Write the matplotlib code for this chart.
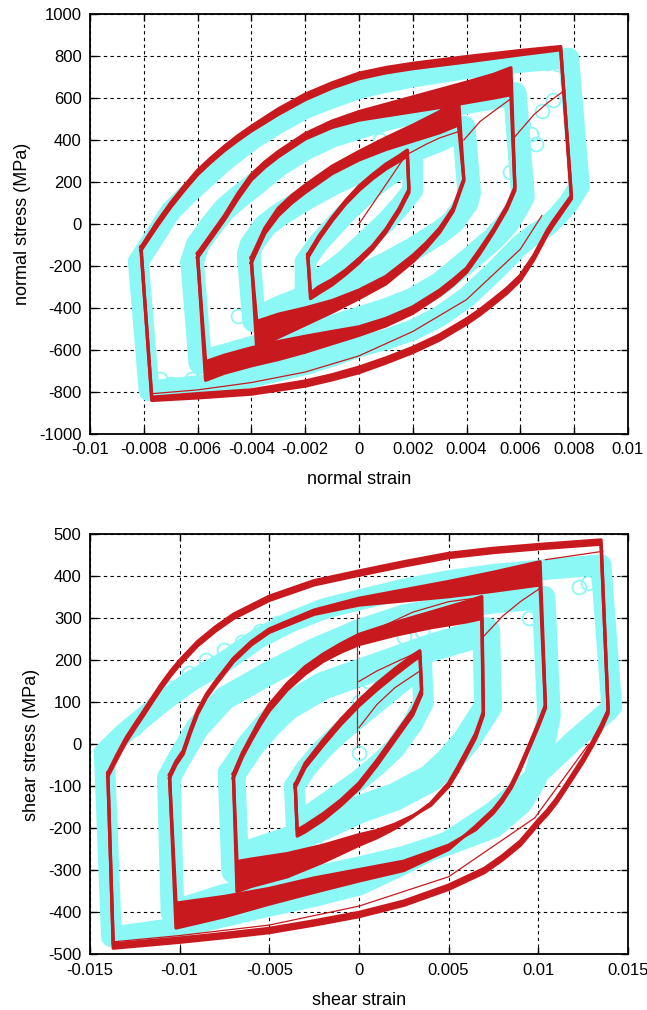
import matplotlib
matplotlib.use("Agg")
import matplotlib.pyplot as plt

RED = '#c8191e'
CYAN = '#8cf8f6'

# ================= NORMAL (top panel) =================
# simulated loops: upper branch (x, outer cycle y, inner cycle y), lower branch
n1_up_x = [-0.0019, -0.0015, -0.001, -0.0005, 0.0, 0.0005, 0.001, 0.0015, 0.0018]
n1_up_a = [-145, -60, 30, 110, 180, 235, 285, 325, 352]
n1_up_b = [-160, -75, 15, 95, 160, 215, 262, 300, 325]
n1_lo_x = [0.00186, 0.0015, 0.001, 0.0005, 0.0, -0.0005, -0.001, -0.0015, -0.0018]
n1_lo_a = [150, 60, -40, -120, -185, -240, -290, -330, -355]
n1_lo_b = [165, 75, -25, -105, -165, -220, -265, -300, -330]

n2_up_x = [-0.0040, -0.0035, -0.003, -0.0025, -0.002, -0.001, 0.0, 0.001, 0.002, 0.003, 0.0037]
n2_up_a = [-160, -20, 75, 135, 185, 275, 345, 410, 470, 535, 600]
n2_up_b = [-185, -45, 40, 100, 150, 240, 305, 355, 395, 435, 472]
n2_lo_x = [0.0039, 0.0035, 0.003, 0.0025, 0.002, 0.001, 0.0, -0.001, -0.002, -0.003, -0.0038]
n2_lo_a = [205, 60, -40, -115, -180, -285, -355, -420, -480, -540, -592]
n2_lo_b = [215, 75, -20, -90, -150, -250, -315, -365, -400, -430, -464]

n3_up_x = [-0.0060, -0.0055, -0.005, -0.0045, -0.004, -0.0035, -0.003, -0.002, -0.001, 0.0, 0.001, 0.002, 0.003, 0.004, 0.005, 0.00565]
n3_up_a = [-140, -50, 40, 145, 235, 295, 345, 430, 490, 535, 570, 605, 640, 675, 712, 744]
n3_up_b = [-160, -70, 20, 120, 210, 270, 320, 405, 460, 495, 515, 535, 555, 578, 600, 616]
n3_lo_x = [0.0058, 0.0055, 0.005, 0.0045, 0.004, 0.0035, 0.003, 0.002, 0.001, 0.0, -0.001, -0.002, -0.003, -0.004, -0.005, -0.0057]
n3_lo_a = [160, 70, -40, -140, -230, -290, -340, -425, -485, -530, -570, -610, -645, -675, -710, -744]
n3_lo_b = [175, 85, -25, -120, -210, -265, -315, -395, -450, -490, -512, -535, -560, -590, -625, -656]

n4_up_x = [-0.0081, -0.0075, -0.007, -0.0065, -0.006, -0.0055, -0.005, -0.0045, -0.004, -0.003, -0.002, -0.001, 0.0, 0.001, 0.002, 0.004, 0.006, 0.0075]
n4_up_a = [-110, 10, 100, 180, 255, 315, 370, 420, 465, 548, 618, 672, 718, 745, 765, 797, 826, 845]
n4_up_b = [-125, -10, 80, 160, 235, 295, 350, 398, 443, 522, 592, 648, 692, 720, 740, 772, 806, 830]
n4_lo_x = [0.0079, 0.0072, 0.007, 0.0065, 0.006, 0.0055, 0.005, 0.0045, 0.004, 0.003, 0.002, 0.001, 0.0, -0.001, -0.002, -0.004, -0.006, -0.0077]
n4_lo_a = [120, -10, -50, -170, -268, -330, -382, -432, -476, -552, -612, -662, -708, -742, -772, -810, -828, -840]
n4_lo_b = [135, 10, -30, -150, -245, -306, -358, -408, -452, -528, -588, -638, -682, -718, -748, -790, -808, -825]

# thin simulated transition curves
nt0_x = [0.0, 0.0006, 0.0012, 0.00183]
nt0_y = [0, 112, 225, 344]
nt1_x = [0.00186, 0.0025, 0.003, 0.0037]
nt1_y = [336, 380, 410, 440]
nt2_x = [0.0039, 0.0045, 0.005, 0.0056]
nt2_y = [400, 488, 536, 592]
nt3_x = [0.0058, 0.0065, 0.007, 0.0076]
nt3_y = [416, 520, 576, 632]
nt4_x = [-0.0077, -0.006, -0.004, -0.002, 0.0, 0.002, 0.004, 0.006, 0.0068]
nt4_y = [-808, -790, -755, -705, -628, -512, -360, -120, 40]
nt5_x = [-0.0038, -0.003, -0.002, -0.001, 0.0]
nt5_y = [-472, -452, -424, -380, -320]

# experimental loops (cyan)
cn1_up_x = [-0.002, -0.0015, -0.001, -0.0005, 0.0, 0.0005, 0.001, 0.0015, 0.002]
cn1_up_y = [-180, -90, -20, 50, 110, 170, 220, 265, 300]
cn1_lo_x = [0.002, 0.0015, 0.001, 0.0005, 0.0, -0.0005, -0.001, -0.0015, -0.002]
cn1_lo_y = [160, 80, 10, -50, -110, -170, -220, -265, -320]

cn2_up_x = [-0.0041, -0.004, -0.0035, -0.003, -0.0025, -0.002, -0.001, 0.0, 0.001, 0.002, 0.003, 0.0039]
cn2_up_y = [-150, -100, -10, 40, 80, 120, 190, 250, 300, 350, 400, 460]
cn2_lo_x = [0.0041, 0.004, 0.0035, 0.003, 0.0025, 0.002, 0.001, 0.0, -0.001, -0.002, -0.003, -0.0039]
cn2_lo_y = [150, 100, 10, -40, -80, -120, -190, -250, -300, -350, -400, -460]

cn3_up_x = [-0.0062, -0.006, -0.0055, -0.005, -0.0045, -0.004, -0.003, -0.002, -0.001, 0.0, 0.001, 0.002, 0.003, 0.004, 0.0058]
cn3_up_y = [-180, -100, -10, 70, 125, 175, 280, 360, 420, 460, 500, 530, 555, 580, 620]
cn3_lo_x = [0.0061, 0.0058, 0.0055, 0.005, 0.0045, 0.004, 0.003, 0.002, 0.001, 0.0, -0.001, -0.002, -0.003, -0.004, -0.0059]
cn3_lo_y = [130, 60, 0, -70, -125, -180, -285, -360, -410, -450, -490, -530, -560, -590, -660]

cn4_up_x = [-0.0082, -0.0078, -0.0074, -0.007, -0.0065, -0.006, -0.005, -0.004, -0.003, -0.002, -0.001, 0.0, 0.001, 0.002, 0.004, 0.006, 0.0078]
cn4_up_y = [-180, -100, -20, 60, 125, 185, 300, 400, 480, 550, 600, 645, 675, 700, 740, 770, 790]
cn4_lo_x = [0.0082, 0.0078, 0.0074, 0.007, 0.0065, 0.006, 0.005, 0.004, 0.003, 0.002, 0.001, 0.0, -0.001, -0.002, -0.004, -0.006, -0.0078]
cn4_lo_y = [180, 100, 40, -10, -50, -100, -230, -350, -440, -505, -550, -585, -630, -670, -730, -770, -795]

# scattered experimental points
cn_px = [0.0027, 0.0034, 0.0038, 0.0046, 0.0052, 0.0057, 0.0063, 0.0070, 0.0074,
         0.0058, 0.0061, 0.0064, 0.0068, 0.0072, 0.0060, 0.0066, 0.0056, 0.0060,
         -0.0074, -0.0070, -0.0066, -0.0062, -0.0056, -0.0050, -0.0044, -0.0040,
         -0.0030, -0.0025, -0.0020, -0.0045, -0.0015, 0.0022, 0.0008]
cn_py = [715, 740, 745, 735, 760, 772, 770, 765, 760,
         560, 470, 430, 540, 590, 300, 380, 250, 170,
         -740, -760, -785, -740, -750, -740, -720, -690,
         -700, -660, -640, -440, -470, 420, 400]

n_xticks = [-0.01, -0.008, -0.006, -0.004, -0.002, 0.0, 0.002, 0.004, 0.006, 0.008, 0.01]
n_xlabels = ['-0.01', '-0.008', '-0.006', '-0.004', '-0.002', '0', '0.002', '0.004', '0.006', '0.008', '0.01']
n_yticks = [-1000, -800, -600, -400, -200, 0, 200, 400, 600, 800, 1000]

# ================= SHEAR (bottom panel) =================
s1_up_x = [-0.00355, -0.003, -0.002, -0.001, 0.0, 0.001, 0.002, 0.003, 0.0034]
s1_up_a = [-95, -45, 10, 60, 105, 145, 180, 212, 223]
s1_up_b = [-102, -55, -2, 48, 92, 130, 165, 198, 210]
s1_lo_x = [0.0035, 0.003, 0.002, 0.001, 0.0, -0.001, -0.002, -0.003, -0.00344]
s1_lo_a = [120, 70, 10, -50, -105, -145, -180, -208, -218]
s1_lo_b = [130, 82, 22, -38, -92, -132, -165, -193, -204]

s2_up_x = [-0.007, -0.0065, -0.006, -0.0055, -0.005, -0.004, -0.003, -0.002, -0.001, 0.0, 0.002, 0.004, 0.006, 0.00685]
s2_up_a = [-70, -20, 20, 60, 95, 145, 185, 215, 240, 262, 290, 315, 340, 352]
s2_up_b = [-80, -30, 10, 47, 80, 130, 168, 198, 220, 238, 260, 278, 292, 300]
s2_lo_x = [0.00694, 0.0065, 0.006, 0.0055, 0.005, 0.004, 0.003, 0.002, 0.001, 0.0, -0.002, -0.004, -0.006, -0.0068]
s2_lo_a = [78, 25, -15, -55, -92, -140, -172, -200, -222, -240, -280, -315, -338, -350]
s2_lo_b = [70, 15, -25, -65, -100, -145, -170, -190, -205, -215, -240, -260, -273, -279]

s3_up_x = [-0.01056, -0.0102, -0.0098, -0.0094, -0.009, -0.0085, -0.008, -0.007, -0.006, -0.005, -0.0025, 0.0, 0.0025, 0.005, 0.0075, 0.0101]
s3_up_a = [-72, -40, -15, 35, 80, 120, 150, 205, 245, 275, 320, 348, 368, 388, 410, 435]
s3_up_b = [-80, -48, -23, 27, 72, 112, 142, 197, 237, 267, 310, 332, 342, 352, 365, 380]
s3_lo_x = [0.0104, 0.010, 0.0093, 0.0089, 0.0085, 0.008, 0.0075, 0.0065, 0.005, 0.0025, 0.0, -0.0025, -0.005, -0.0075, -0.0102]
s3_lo_a = [94, 50, -21, -60, -95, -128, -155, -195, -250, -300, -325, -352, -380, -410, -437]
s3_lo_b = [86, 42, -29, -68, -103, -136, -163, -203, -240, -278, -298, -318, -343, -362, -378]

s4_up_x = [-0.014, -0.0135, -0.013, -0.0125, -0.012, -0.0115, -0.011, -0.0105, -0.010, -0.009, -0.008, -0.007, -0.005, -0.0025, 0.0, 0.0025, 0.005, 0.0075, 0.010, 0.0135]
s4_up_a = [-68, -25, 15, 48, 80, 113, 145, 174, 200, 245, 280, 310, 353, 390, 413, 435, 455, 467, 476, 487]
s4_up_b = [-76, -35, 5, 38, 70, 103, 135, 164, 190, 235, 270, 300, 343, 380, 403, 425, 445, 457, 466, 477]
s4_lo_x = [0.0139, 0.0135, 0.013, 0.0125, 0.012, 0.0115, 0.011, 0.0105, 0.010, 0.009, 0.008, 0.007, 0.005, 0.0025, 0.0, -0.0025, -0.005, -0.0075, -0.010, -0.0137]
s4_lo_a = [74, 35, -5, -42, -75, -108, -140, -167, -190, -240, -275, -305, -345, -383, -410, -430, -448, -460, -471, -485]
s4_lo_b = [82, 45, 5, -32, -65, -98, -130, -157, -180, -230, -265, -295, -335, -373, -400, -420, -438, -450, -461, -475]

st0_x = [-0.0001, -0.0001]
st0_y = [310, -5]
st1_x = [0.0, 0.001, 0.002, 0.0034]
st1_y = [150, 175, 195, 222]
st2_x = [0.0, 0.001, 0.002, 0.0034]
st2_y = [40, 95, 135, 175]
st3_x = [0.0, 0.001, 0.003, 0.005, 0.0068]
st3_y = [240, 275, 315, 340, 350]
st4_x = [0.0069, 0.008, 0.009, 0.0101]
st4_y = [255, 305, 340, 372]
st5_x = [0.0104, 0.012, 0.0136]
st5_y = [440, 450, 460]
st6_x = [-0.0137, -0.01, -0.005, 0.0, 0.005, 0.0098, 0.0128]
st6_y = [-470, -455, -430, -385, -315, -175, 0]

cs1_up_x = [-0.0036, -0.003, -0.002, -0.001, 0.0, 0.001, 0.002, 0.003, 0.0035]
cs1_up_y = [-100, -60, -10, 30, 65, 100, 135, 170, 190]
cs1_lo_x = [0.0036, 0.003, 0.002, 0.001, 0.0, -0.001, -0.002, -0.003, -0.0035]
cs1_lo_y = [100, 50, -10, -50, -85, -115, -145, -175, -190]

cs2_up_x = [-0.0071, -0.006, -0.005, -0.004, -0.002, 0.0, 0.002, 0.004, 0.006, 0.0071]
cs2_up_y = [-70, 0, 50, 90, 140, 170, 200, 230, 255, 270]
cs2_lo_x = [0.0072, 0.006, 0.005, 0.004, 0.002, 0.0, -0.002, -0.004, -0.006, -0.0069]
cs2_lo_y = [90, 10, -40, -80, -125, -155, -195, -230, -258, -300]

cs3_up_x = [-0.0106, -0.0101, -0.009, -0.0075, -0.005, -0.0025, 0.0, 0.0025, 0.005, 0.0075, 0.0103]
cs3_up_y = [-80, -40, 40, 110, 170, 225, 270, 305, 325, 340, 350]
cs3_lo_x = [0.0106, 0.0102, 0.0098, 0.009, 0.0075, 0.005, 0.0025, 0.0, -0.0025, -0.005, -0.0075, -0.0104]
cs3_lo_y = [70, -20, -85, -140, -195, -235, -270, -295, -318, -338, -360, -400]

cs4_up_x = [-0.0142, -0.0135, -0.013, -0.012, -0.011, -0.0094, -0.0075, -0.0056, -0.0038, -0.0019, 0.0, 0.0025, 0.005, 0.0075, 0.01, 0.0135]
cs4_up_y = [-20, 10, 30, 65, 100, 150, 197, 253, 292, 324, 344, 370, 390, 405, 415, 428]
cs4_lo_x = [0.0141, 0.0139, 0.012, 0.01, 0.0075, 0.005, 0.0025, 0.0, -0.0025, -0.005, -0.0075, -0.01, -0.012, -0.0138]
cs4_lo_y = [90, 80, 10, -70, -160, -230, -285, -335, -362, -385, -410, -435, -448, -458]

cs_px = [-0.0125, -0.0115, -0.0105, -0.0095, -0.0085, -0.0075, -0.0065, -0.0055, -0.0045,
         -0.0035, -0.0025, 0.0085, 0.0095, 0.0123, 0.0128, 0.0134, 0.0025, 0.0035,
         -0.0130, -0.0122, -0.0115, -0.0108, -0.0040, -0.0032, -0.0025, 0.0,
         0.0, 0.0005, 0.0, 0.0060, 0.0010, 0.0020]
cs_py = [40, 95, 135, 170, 200, 225, 245, 270, 290,
         300, 315, 345, 300, 375, 385, 390, 255, 270,
         -450, -445, -450, -440, -250, -245, -240, 60,
         -20, 150, 100, 340, 100, 140]

s_xticks = [-0.015, -0.01, -0.005, 0.0, 0.005, 0.01, 0.015]
s_xlabels = ['-0.015', '-0.01', '-0.005', '0', '0.005', '0.01', '0.015']
s_yticks = [-500, -400, -300, -200, -100, 0, 100, 200, 300, 400, 500]

plt.rcParams['font.family'] = ['Liberation Sans', 'DejaVu Sans']

fig = plt.figure(figsize=(6.47, 10.10), dpi=100)
ax1 = fig.add_axes([0.139, 0.5703, 0.8315, 0.4158])
ax2 = fig.add_axes([0.139, 0.0550, 0.8315, 0.4158])


def cyan_loop(ax, ux, uy, lx, ly, lw=15):
    xs = ux + lx + [ux[0]]
    ys = uy + ly + [uy[0]]
    ax.plot(xs, ys, color=CYAN, lw=lw, solid_joinstyle='round',
            solid_capstyle='round', zorder=1)
    ax.plot(xs, ys, ls='none', marker='o', ms=10, mfc='none', mec=CYAN,
            mew=1.3, zorder=1)


def red_loop(ax, ux, ua, ub, lx, la, lb, lw=2.4):
    ax.plot(ux + lx + [ux[0]], ua + la + [ua[0]], color=RED, lw=lw, zorder=3,
            solid_joinstyle='round')
    ax.plot(ux + lx + [ux[0]], ub + lb + [ub[0]], color=RED, lw=lw, zorder=3,
            solid_joinstyle='round')
    ax.fill(ux + ux[::-1], ua + ub[::-1], color=RED, lw=0, zorder=3)
    ax.fill(lx + lx[::-1], la + lb[::-1], color=RED, lw=0, zorder=3)
    ax.fill([ux[-1], lx[0], lx[0], ux[-1]], [ua[-1], la[0], lb[0], ub[-1]],
            color=RED, lw=0, zorder=3)
    ax.fill([lx[-1], ux[0], ux[0], lx[-1]], [la[-1], ua[0], ub[0], lb[-1]],
            color=RED, lw=0, zorder=3)


def thin(ax, x, y):
    ax.plot(x, y, color=RED, lw=0.9, zorder=3)


# ---- top panel ----
for ux, uy, lx, ly, w in [(cn4_up_x, cn4_up_y, cn4_lo_x, cn4_lo_y, 15),
                          (cn3_up_x, cn3_up_y, cn3_lo_x, cn3_lo_y, 17),
                          (cn2_up_x, cn2_up_y, cn2_lo_x, cn2_lo_y, 17),
                          (cn1_up_x, cn1_up_y, cn1_lo_x, cn1_lo_y, 15)]:
    cyan_loop(ax1, ux, uy, lx, ly, w)
ax1.plot(cn_px, cn_py, ls='none', marker='o', ms=10, mfc='none', mec=CYAN,
         mew=1.3, zorder=1)
red_loop(ax1, n4_up_x, n4_up_a, n4_up_b, n4_lo_x, n4_lo_a, n4_lo_b)
red_loop(ax1, n3_up_x, n3_up_a, n3_up_b, n3_lo_x, n3_lo_a, n3_lo_b)
red_loop(ax1, n2_up_x, n2_up_a, n2_up_b, n2_lo_x, n2_lo_a, n2_lo_b)
red_loop(ax1, n1_up_x, n1_up_a, n1_up_b, n1_lo_x, n1_lo_a, n1_lo_b)
for x, y in [(nt0_x, nt0_y), (nt1_x, nt1_y), (nt2_x, nt2_y), (nt3_x, nt3_y),
             (nt4_x, nt4_y), (nt5_x, nt5_y)]:
    thin(ax1, x, y)

# ---- bottom panel ----
for ux, uy, lx, ly, w in [(cs4_up_x, cs4_up_y, cs4_lo_x, cs4_lo_y, 15),
                          (cs3_up_x, cs3_up_y, cs3_lo_x, cs3_lo_y, 17),
                          (cs2_up_x, cs2_up_y, cs2_lo_x, cs2_lo_y, 20),
                          (cs1_up_x, cs1_up_y, cs1_lo_x, cs1_lo_y, 15)]:
    cyan_loop(ax2, ux, uy, lx, ly, w)
ax2.plot(cs_px, cs_py, ls='none', marker='o', ms=10, mfc='none', mec=CYAN,
         mew=1.3, zorder=1)
red_loop(ax2, s4_up_x, s4_up_a, s4_up_b, s4_lo_x, s4_lo_a, s4_lo_b)
red_loop(ax2, s3_up_x, s3_up_a, s3_up_b, s3_lo_x, s3_lo_a, s3_lo_b)
red_loop(ax2, s2_up_x, s2_up_a, s2_up_b, s2_lo_x, s2_lo_a, s2_lo_b)
red_loop(ax2, s1_up_x, s1_up_a, s1_up_b, s1_lo_x, s1_lo_a, s1_lo_b)
for x, y in [(st0_x, st0_y), (st1_x, st1_y), (st2_x, st2_y), (st3_x, st3_y),
             (st4_x, st4_y), (st5_x, st5_y), (st6_x, st6_y)]:
    thin(ax2, x, y)


def style(ax, xt, xl, yt, xlabel, ylabel):
    ax.set_xlim(xt[0], xt[-1])
    ax.set_ylim(yt[0], yt[-1])
    ax.set_xticks(xt)
    ax.set_xticklabels(xl)
    ax.set_yticks(yt)
    ax.set_yticklabels([str(v) for v in yt])
    ax.grid(True, color='black', linestyle=(0, (3, 3)), linewidth=0.8, zorder=0)
    ax.set_axisbelow(True)
    ax.tick_params(direction='in', top=True, right=True, length=5, width=1,
                   labelsize=12, pad=6)
    for sp in ax.spines.values():
        sp.set_linewidth(1.3)
    ax.set_xlabel(xlabel, fontsize=13, labelpad=10)
    ax.set_ylabel(ylabel, fontsize=13, labelpad=6)


style(ax1, n_xticks, n_xlabels, n_yticks, 'normal strain', 'normal stress (MPa)')
style(ax2, s_xticks, s_xlabels, s_yticks, 'shear strain', 'shear stress (MPa)')

fig.savefig('out.png', dpi=100)
